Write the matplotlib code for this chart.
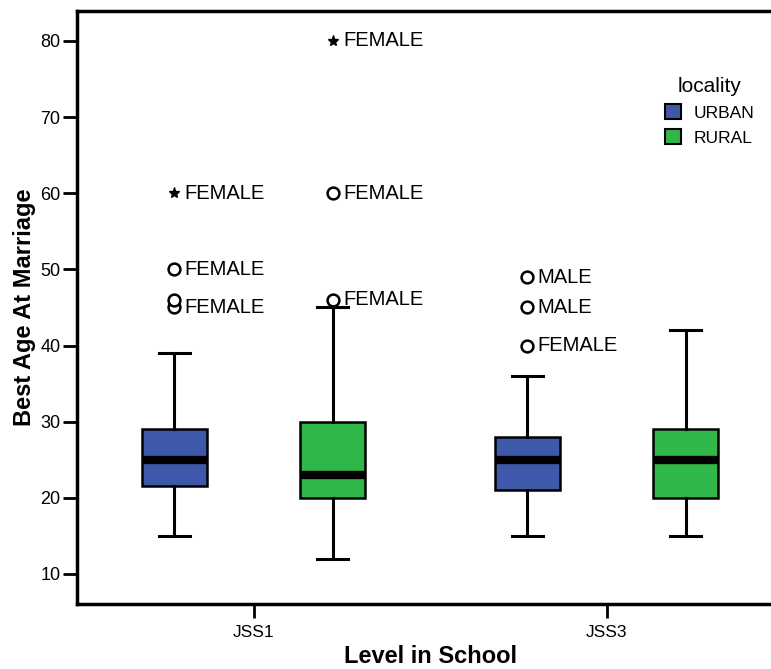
import matplotlib
matplotlib.use("Agg")
import matplotlib.pyplot as plt
from matplotlib.patches import Patch

plt.rcParams['font.family'] = ['Liberation Sans', 'DejaVu Sans']

## Data
levels = ['JSS1', 'JSS3']
localities = ['URBAN', 'RURAL']
colors = ['#3F59AA', '#2FB74A']

# one entry per box: JSS1-URBAN, JSS1-RURAL, JSS3-URBAN, JSS3-RURAL
whis_low = [15, 12, 15, 15]
q1 = [21.5, 20, 21, 20]
median = [25, 23, 25, 25]
q3 = [29, 30, 28, 29]
whis_high = [39, 45, 36, 42]

# outlying cases
out_box = [0, 0, 0, 0, 1, 1, 1, 2, 2, 2]
out_value = [45, 46, 50, 60, 46, 60, 80, 40, 45, 49]
out_marker = ['o', 'o', 'o', '*', 'o', 'o', '*', 'o', 'o', 'o']
out_label = ['FEMALE', '', 'FEMALE', 'FEMALE', 'FEMALE', 'FEMALE', 'FEMALE',
             'FEMALE', 'MALE', 'MALE']

## Figure
fig = plt.figure(figsize=(7.71, 6.69), dpi=100)
ax = fig.add_axes([0.0999, 0.0972, 0.9157, 0.8864])

offset = 0.224
positions = []
for i in range(len(levels)):
    for j in range(len(localities)):
        positions.append(i + (j - 0.5) * 2 * offset)

stats = []
for k in range(len(positions)):
    stats.append({'whislo': whis_low[k], 'q1': q1[k], 'med': median[k],
                  'q3': q3[k], 'whishi': whis_high[k], 'fliers': []})

bp = ax.bxp(stats, positions=positions, widths=0.184, patch_artist=True,
            showfliers=False,
            boxprops=dict(linewidth=1.8, edgecolor='black'),
            whiskerprops=dict(linewidth=2.2, color='black'),
            capprops=dict(linewidth=2.2, color='black'),
            medianprops=dict(linewidth=6, color='black', solid_capstyle='butt'),
            capwidths=0.09)
for k, box in enumerate(bp['boxes']):
    box.set_facecolor(colors[k % 2])

## Outliers and their labels
for b, v, m, lab in zip(out_box, out_value, out_marker, out_label):
    x = positions[b]
    if m == 'o':
        ax.plot(x, v, 'o', ms=8.5, mfc='white', mec='black', mew=1.8, zorder=4)
    else:
        ax.plot(x, v, '*', ms=8, color='black', zorder=4)
    if lab:
        ax.annotate(lab, (x, v), xytext=(7.5, 0), textcoords='offset points',
                    va='center', ha='left', fontsize=14.5)

## Axes styling
ax.set_xlim(-0.5, 1.5)
ax.set_ylim(6.06, 83.94)
ax.set_xticks(range(len(levels)))
ax.set_xticklabels(levels, fontsize=12.5)
ax.set_yticks([10, 20, 30, 40, 50, 60, 70, 80])
ax.tick_params(axis='y', labelsize=13, length=10, width=2, pad=2)
ax.tick_params(axis='x', length=10, width=2, pad=5)
for s in ax.spines.values():
    s.set_linewidth(2.5)

ax.set_xlabel('Level in School', fontsize=17, fontweight='bold', labelpad=4)
ax.set_ylabel('Best Age At Marriage', fontsize=17, fontweight='bold', labelpad=3)

handles = [Patch(facecolor=c, edgecolor='black', linewidth=1.5) for c in colors]
leg = fig.legend(handles, localities, title='locality', loc='upper left',
                 bbox_to_anchor=(0.845, 0.906), frameon=False, fontsize=12.5,
                 title_fontsize=15, handlelength=0.9, handleheight=0.9,
                 handletextpad=0.7, labelspacing=0.5, borderpad=0.3)

plt.savefig('out.png', dpi=100)
